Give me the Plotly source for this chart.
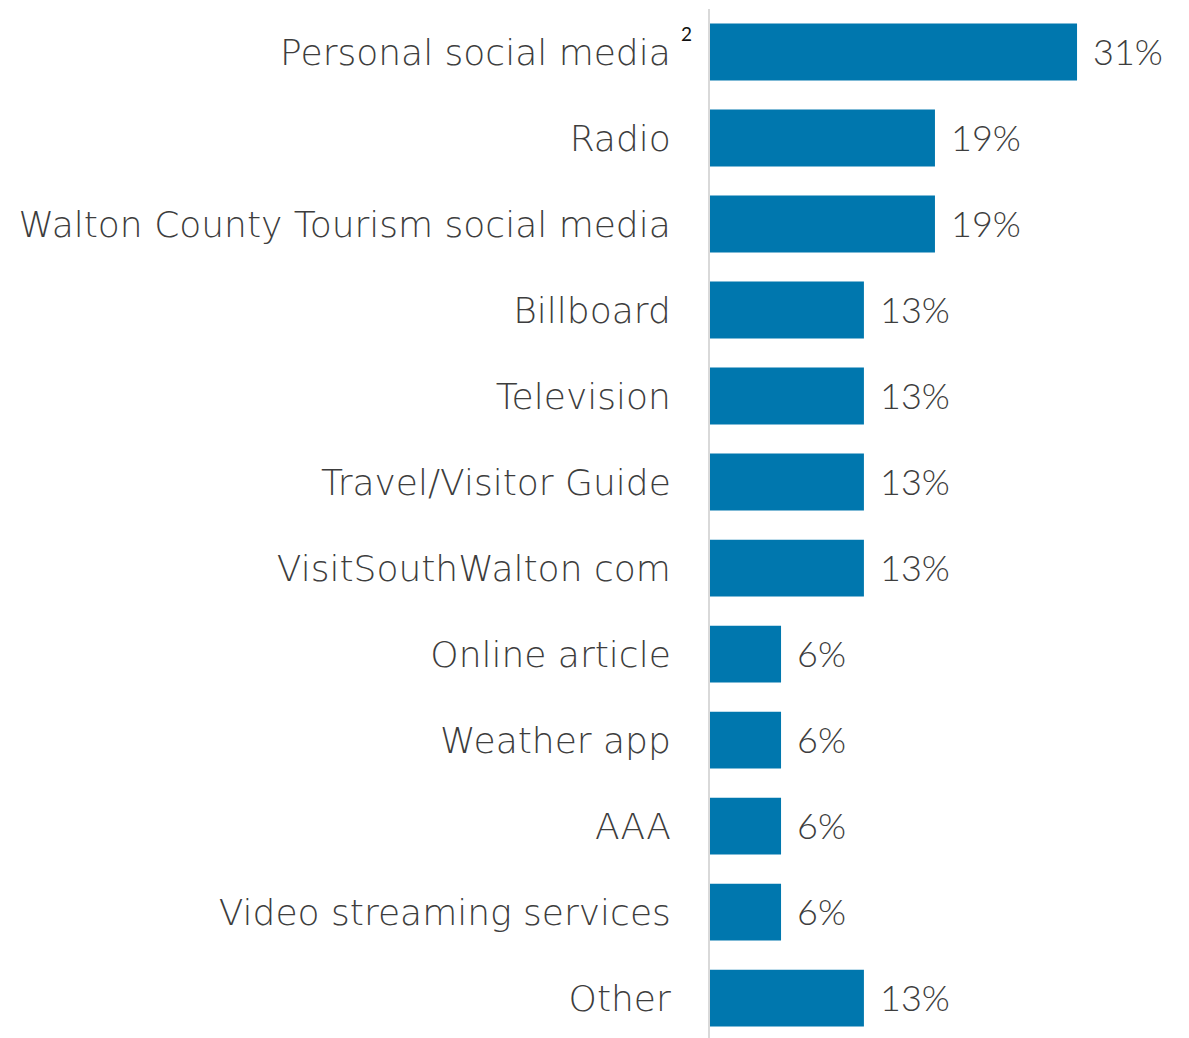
import plotly.graph_objects as go

# Share of respondents by source (percent)
categories = [
    "Personal social media",
    "Radio",
    "Walton County Tourism social media",
    "Billboard",
    "Television",
    "Travel/Visitor Guide",
    "VisitSouthWalton com",
    "Online article",
    "Weather app",
    "AAA",
    "Video streaming services",
    "Other",
]
values = [31, 19, 19, 13, 13, 13, 13, 6, 6, 6, 6, 13]
value_labels = [f"{v}%" for v in values]

BAR_BLUE = "#0077AE"
TEXT_GREY = "#3d3d3d"
FONT = "Lato"
LABEL_FONT = "DejaVu Sans"

fig = go.Figure(
    go.Bar(
        x=values,
        y=categories,
        orientation="h",
        marker=dict(color=BAR_BLUE, line=dict(width=0)),
        hoverinfo="skip",
    )
)

# Value labels to the right of each bar
annotations = [
    dict(
        x=v, y=c, xref="x", yref="y", text=t, showarrow=False,
        xanchor="left", yanchor="middle", xshift=14, yshift=1,
        font=dict(family=FONT, size=36, color=TEXT_GREY, weight=300),
    )
    for v, c, t in zip(values, categories, value_labels)
]
# Footnote marker on the first category
annotations.append(
    dict(
        x=-0.050, y=categories[0], xref="paper", yref="y", text="2",
        showarrow=False, xanchor="center", yanchor="middle", yshift=19,
        font=dict(family=FONT, size=19, color="#111111"),
    )
)

fig.update_layout(
    width=1189,
    height=1038,
    margin=dict(l=710, r=0, t=9, b=0),
    paper_bgcolor="white",
    plot_bgcolor="white",
    bargap=0.34,
    showlegend=False,
    annotations=annotations,
    font=dict(family=FONT, color=TEXT_GREY),
)

fig.update_xaxes(
    range=[0, 479 / 11.84],
    visible=False,
    fixedrange=True,
)

fig.update_yaxes(
    categoryorder="array",
    categoryarray=categories,
    range=[11.465, -0.5],
    showline=True,
    linecolor="#d9d9d9",
    linewidth=2,
    showgrid=False,
    zeroline=False,
    ticks="",
    ticklabelstandoff=30,
    tickfont=dict(family=LABEL_FONT, size=36, color=TEXT_GREY, weight=200),
)

fig.write_html("out.html")
